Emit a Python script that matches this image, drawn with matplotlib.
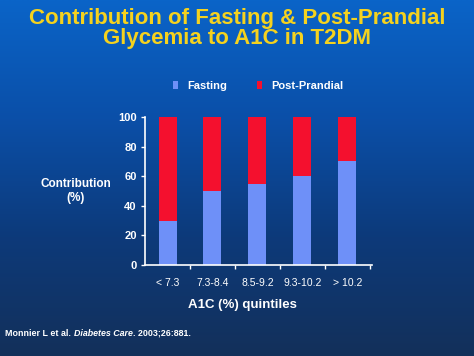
import numpy as np
import matplotlib
matplotlib.use("Agg")
import matplotlib.pyplot as plt
from matplotlib.colors import LinearSegmentedColormap

categories = ["< 7.3", "7.3-8.4", "8.5-9.2", "9.3-10.2", "> 10.2"]
fasting = [30, 50, 55, 60, 70]
post_prandial = [70, 50, 45, 40, 30]
yticks = [0, 20, 40, 60, 80, 100]

plt.rcParams['font.family'] = ['Liberation Sans', 'DejaVu Sans']

fig = plt.figure(figsize=(4.74, 3.56), dpi=100)

# gradient background
bg = fig.add_axes([0, 0, 1, 1], zorder=0)
cmap = LinearSegmentedColormap.from_list("bg", ["#0a64c8", "#0b4fa8", "#0d3a7a", "#13305a"])
grad = np.linspace(0, 1, 256).reshape(-1, 1)
bg.imshow(grad, aspect="auto", cmap=cmap, extent=[0, 1, 0, 1], origin="upper")
bg.set_axis_off()

ax = fig.add_axes([0.306, 0.2556, 0.479, 0.4157], zorder=1)
ax.patch.set_alpha(0)
x = np.arange(len(categories))
blue = "#6e90f8"
red = "#f4102e"
ax.bar(x, fasting, width=0.4, color=blue, label="Fasting")
ax.bar(x, post_prandial, width=0.4, bottom=fasting, color=red, label="Post-Prandial")

ax.set_xlim(-0.5, 4.55)
ax.set_ylim(0, 100)
ax.set_yticks(yticks)
ax.set_yticklabels([str(t) for t in yticks], color="white", fontsize=8, fontweight="bold")
ax.set_xticks(x)
ax.set_xticklabels(categories, color="white", fontsize=7.5)
ax.tick_params(axis="x", length=0, pad=9)
ax.set_xticks(np.arange(0.5, 5, 1), minor=True)
ax.tick_params(axis="x", which="minor", length=3, color="white", width=1)
ax.tick_params(axis="y", length=3, color="white", width=1, pad=3)
for s in ["top", "right"]:
    ax.spines[s].set_visible(False)
for s in ["left", "bottom"]:
    ax.spines[s].set_color("white")
    ax.spines[s].set_linewidth(1.2)

fig.text(242/474, 1-305/356, "A1C (%) quintiles", color="white", fontsize=9.5,
         fontweight="bold", ha="center", va="center")

fig.text(76/474, 1-191/356, "Contribution\n(%)", color="white", fontsize=8.5,
         fontweight="bold", ha="center", va="center", linespacing=1.3)

fig.text(0.5, 1-28.5/356, "Contribution of Fasting & Post-Prandial\nGlycemia to A1C in T2DM",
         color="#f5d21e", fontsize=16, fontweight="bold", ha="center", va="center",
         linespacing=0.92)

leg = fig.legend(loc="center", bbox_to_anchor=(258/474, 1-86/356), ncol=2, frameon=False,
                 fontsize=8, handlelength=0.45, handleheight=0.8, columnspacing=2.7,
                 handletextpad=0.8)
for t in leg.get_texts():
    t.set_color("white")
    t.set_fontweight("bold")

# footnote: pieces placed one after another
renderer = fig.canvas.get_renderer()
xpos = 5
pieces = [("Monnier L et al. ", "normal"), ("Diabetes Care", "italic"), (". 2003;26:881.", "normal")]
for txt, st in pieces:
    t = fig.text(xpos/474, 1-333/356, txt, color="white", fontsize=6.4, fontweight="bold",
                 style=st, ha="left", va="center")
    bb = t.get_window_extent(renderer=renderer)
    xpos += bb.width + (1 if st == "normal" and txt.endswith(" ") else 0)

fig.savefig("out.png", dpi=100)
